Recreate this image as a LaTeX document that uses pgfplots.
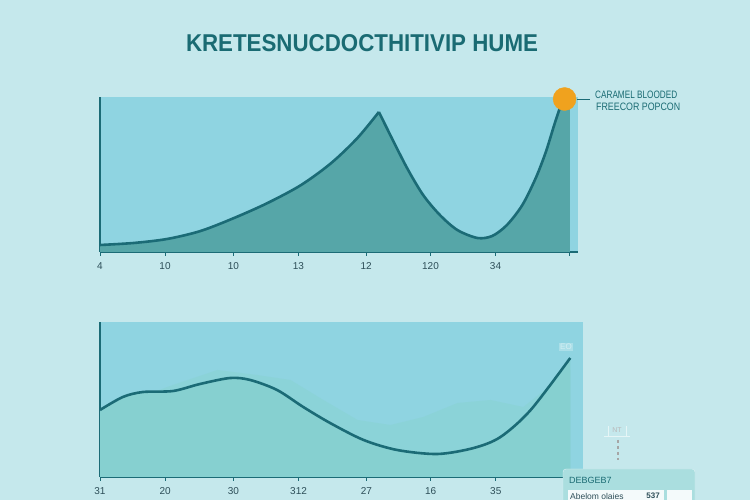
\documentclass[border=0pt]{standalone}
\usepackage{fontspec}
\setmainfont{Liberation Sans}
\usepackage{pgfplots}
\pgfplotsset{compat=1.18}
\definecolor{bgc}{HTML}{C5E8EC}
\definecolor{axblue}{HTML}{8FD4E1}
\definecolor{darkfill}{HTML}{56A6A8}
\definecolor{linec}{HTML}{1B6B76}
\definecolor{botfill}{HTML}{86D0D0}
\definecolor{faintc}{HTML}{8BD3D8}
\definecolor{titlec}{HTML}{1A6B73}
\definecolor{orangec}{HTML}{F0A21E}
\definecolor{tickc}{HTML}{2D4E58}
\pgfplotsset{
  mystyle/.style={
    scale only axis, width=478pt, height=155pt,
    xmin=0, xmax=7.13, ymin=0, ymax=155,
    axis lines=left, axis line style={-, line width=1.6pt, draw=linec},
    axis background/.style={fill=axblue},
    ytick=\empty,
    xtick={0,0.97,1.99,2.96,3.97,4.93,5.90,7.01},
    tick align=outside, major tick length=4pt,
    tick style={draw=linec, line width=1pt},
    xtick pos=bottom,
    tick label style={font=\fontsize{10}{12}\selectfont, text=tickc},
    xticklabel style={yshift=-3pt},
    /pgf/number format/assume math mode=true,
    clip=false,
  }
}
\begin{document}
\begin{tikzpicture}[x=1pt,y=1pt]
\clip (0,0) rectangle (750,500);
\fill[bgc] (0,0) rectangle (750,500);
\node[text=titlec, anchor=center] at (362,457) {\resizebox{352pt}{17pt}{\bfseries KRETESNUCDOCTHITIVIP HUME}};

% top chart
\begin{axis}[mystyle, at={(100pt,248pt)}, anchor=south west,
  xticklabels={4,10,10,13,12,120,34,{}}]
\addplot[draw=none, fill=darkfill] coordinates {
 (0,7) (0.5,9) (1.0,13) (1.5,21) (2.0,34) (2.5,49) (3.0,67) (3.45,89) (3.84,114) (4.16,140)
 (4.33,117) (4.58,84) (4.82,57) (5.07,37) (5.33,22) (5.63,14) (5.85,16) (6.07,27) (6.3,47)
 (6.5,74) (6.65,100) (6.78,128) (6.9,152) (6.92,155) (7.01,155)} \closedcycle;
\addplot[linec, line width=2.6pt, smooth, tension=0.5] coordinates {
 (0,7) (0.5,9) (1.0,13) (1.5,21) (2.0,34) (2.5,49) (3.0,67) (3.45,89) (3.84,114) (4.16,140)};
\addplot[linec, line width=2.6pt, smooth, tension=0.5] coordinates {
 (4.16,140) (4.33,117) (4.58,84) (4.82,57) (5.07,37) (5.33,22) (5.63,14) (5.85,16) (6.07,27) (6.3,47)
 (6.5,74) (6.65,100) (6.78,128) (6.9,152)};
\addplot[only marks, mark=*, mark size=11.5pt, mark options={fill=orangec, draw=orangec}] coordinates {(6.93,153)};
\end{axis}

% bottom chart
\begin{axis}[mystyle, at={(100pt,23pt)}, anchor=south west, xmax=7.2, width=483pt,
  xticklabels={31,20,30,312,27,16,35,{}}]
\addplot[draw=none, fill=faintc] coordinates {
 (0,62) (1.0,90) (1.75,107) (2.34,102) (2.84,97) (3.33,77) (3.84,57) (4.33,52) (4.82,60)
 (5.33,74) (5.82,77) (6.31,70) (7.01,107)} \closedcycle;
\addplot[draw=none, fill=botfill, smooth] coordinates {
 (0,67) (0.34,80) (0.64,85) (1.09,86) (1.49,93) (1.94,99) (2.24,97) (2.64,87) (3.03,70)
 (3.43,54) (3.93,37) (4.43,27) (5.03,23) (5.57,29) (5.97,40) (6.42,67) (7.01,119)} \closedcycle;
\addplot[linec, line width=2.6pt, smooth] coordinates {
 (0,67) (0.34,80) (0.64,85) (1.09,86) (1.49,93) (1.94,99) (2.24,97) (2.64,87) (3.03,70)
 (3.43,54) (3.93,37) (4.43,27) (5.03,23) (5.57,29) (5.97,40) (6.42,67) (7.01,119)};
\end{axis}

% legend-like annotation
\draw[linec, line width=0.8pt] (577,401) -- (590,401);
\node[anchor=west, text=titlec, inner sep=0] at (595,405) {\resizebox{82pt}{7.5pt}{CARAMEL BLOODED}};
\node[anchor=west, text=titlec, inner sep=0] at (596,393) {\resizebox{84pt}{7.5pt}{FREECOR POPCON}};

% faint marks
\node[text=white!60!axblue, fill=white!25!axblue, inner sep=1pt, font=\fontsize{8}{9}\selectfont] at (566,153) {EO};
\draw[white!55!bgc, line width=0.6pt] (608,74) -- (608,64) -- (626,64) -- (626,74);
\node[text=white!45!gray, font=\fontsize{7}{8}\selectfont] at (617,70) {NT};
\draw[white!55!bgc, line width=1pt] (604,63) -- (630,63);
\draw[gray!70, dashed, line width=1.2pt] (618,60) -- (618,40);

% bottom right box
\draw[fill=white!20!botfill!70!bgc, draw=white!40!bgc, rounded corners=3pt] (563,31) rectangle (695,-6);
\node[anchor=west, text=titlec, font=\fontsize{9}{10}\selectfont, inner sep=0] at (569,20) {DEBGEB7};
\fill[white!80!bgc] (568,10) rectangle (664,-2);
\fill[white!80!bgc] (667,10) rectangle (692,-2);
\node[anchor=west, text=tickc, font=\fontsize{8.5}{9}\selectfont, inner sep=0] at (570,4) {Abelom olaies};
\node[anchor=east, text=tickc, font=\fontsize{8}{9}\selectfont\bfseries, inner sep=0] at (660,4) {537};
\end{tikzpicture}
\end{document}
